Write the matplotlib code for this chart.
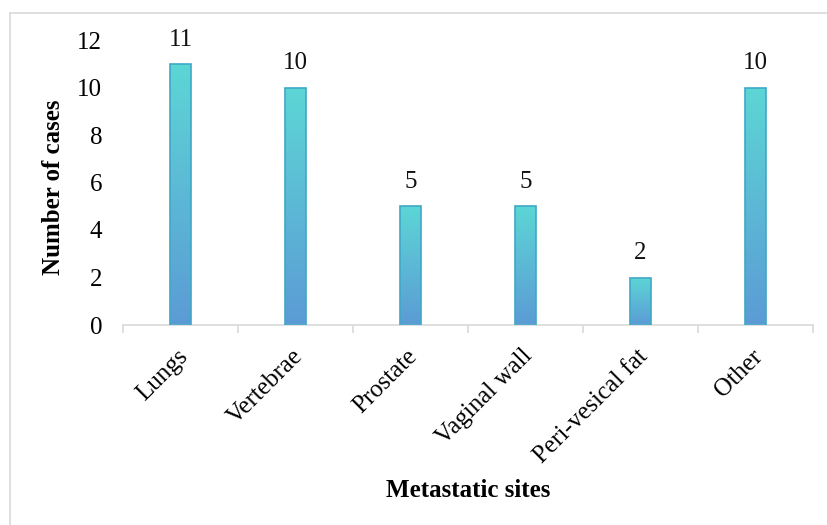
import matplotlib
matplotlib.use("Agg")
import matplotlib.pyplot as plt
import numpy as np
from matplotlib.colors import LinearSegmentedColormap
from matplotlib.lines import Line2D
from matplotlib.transforms import ScaledTranslation

categories = ["Lungs", "Vertebrae", "Prostate", "Vaginal wall", "Peri-vesical fat", "Other"]
values = [11, 10, 5, 5, 2, 10]
y_ticks = [0, 2, 4, 6, 8, 10, 12]

plt.rcParams['font.family'] = ['Liberation Serif', 'DejaVu Serif']

fig = plt.figure(figsize=(8.27, 5.25), dpi=100)
ax = fig.add_axes([123/827, 1-325/525, 690/827, 285/525])

x = np.arange(len(categories))
width = 0.175
cmap = LinearSegmentedColormap.from_list("g", ["#5B9BD5", "#5DD6D6"])
bars = ax.bar(x, values, width=width, color='none', edgecolor='none', zorder=2)
grad = np.linspace(0, 1, 256).reshape(-1, 1)
for b in bars:
    bx, by = b.get_x(), b.get_y()
    w, h = b.get_width(), b.get_height()
    im = ax.imshow(grad, cmap=cmap, aspect='auto', origin='lower',
                   extent=[bx, bx + w, by, by + h], zorder=2,
                   vmin=0, vmax=1)
    im.set_clip_path(b)
ax.bar(x, values, width=width, color='none', edgecolor='#3fa8c6', linewidth=1.2, zorder=3)

for xi, v in zip(x, values):
    ax.text(xi, v + 0.55, str(v), ha='center', va='bottom', fontsize=18, color='#111111')

ax.set_xlim(-0.5, len(categories) - 0.5)
ax.set_ylim(0, 12)
ax.set_yticks(y_ticks)
ax.set_yticklabels([str(t) for t in y_ticks], fontsize=18)
ax.tick_params(axis='y', length=0, pad=15)

ax.set_xticks(x)
ax.set_xticklabels(categories, fontsize=18, rotation=45, ha='right', rotation_mode='anchor')
ax.tick_params(axis='x', length=0, pad=14.5)
shift = ScaledTranslation(-4/100, 0, fig.dpi_scale_trans)
for lbl in ax.get_xticklabels():
    lbl.set_transform(lbl.get_transform() + shift)
ax.set_xticks(np.arange(len(categories) + 1) - 0.5, minor=True)
ax.tick_params(axis='x', which='minor', length=6, color='#d9d9d9', width=1.2)

for s in ['top', 'right', 'left']:
    ax.spines[s].set_visible(False)
ax.spines['bottom'].set_color('#d9d9d9')
ax.spines['bottom'].set_linewidth(1.2)

ax.set_ylabel("Number of cases", fontsize=18, fontweight='bold', va='center')
ax.yaxis.set_label_coords(-0.1, 0.485)
ax.set_xlabel("Metastatic sites", fontsize=18, fontweight='bold')
ax.xaxis.set_label_coords(0.5, -0.58)
ax.xaxis.label.set_va('center')

fig.add_artist(Line2D([9.5/827, 9.5/827], [0, 1-12.5/525], transform=fig.transFigure, color='#d9d9d9', lw=1.2))
fig.add_artist(Line2D([9.5/827, 1], [1-12.5/525, 1-12.5/525], transform=fig.transFigure, color='#d9d9d9', lw=1.2))

fig.savefig("out.png", dpi=100)
